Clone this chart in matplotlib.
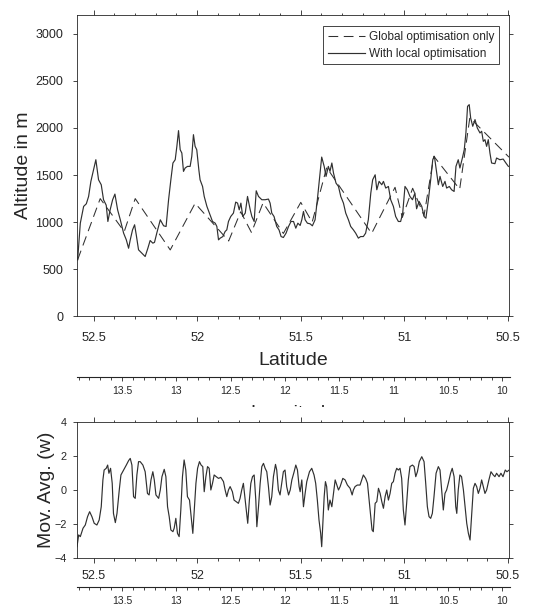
import matplotlib
matplotlib.use("Agg")
import matplotlib.pyplot as plt
from matplotlib.ticker import FixedLocator, MultipleLocator, FormatStrFormatter
from matplotlib.patches import Rectangle

plt.rcParams["font.family"] = ["Liberation Sans", "DejaVu Sans"]
plt.rcParams["lines.scale_dashes"] = False

# ---- altitude profile, with local optimisation (latitude in deg, altitude in m)
lat_local = [52.577, 52.564, 52.548, 52.535, 52.524, 52.513, 52.500, 52.489, 52.476, 52.463,
             52.452, 52.439, 52.431, 52.420, 52.408, 52.397, 52.384, 52.371, 52.355, 52.342,
             52.331, 52.323, 52.312, 52.302, 52.294, 52.283, 52.267, 52.251, 52.238, 52.227,
             52.214, 52.206, 52.195, 52.178, 52.162, 52.150, 52.138, 52.127, 52.117, 52.106,
             52.098, 52.090, 52.082, 52.074, 52.066, 52.058, 52.047, 52.034, 52.026, 52.018,
             52.010, 52.002, 51.992, 51.986, 51.974, 51.966, 51.953, 51.941, 51.926, 51.913,
             51.905, 51.897, 51.889, 51.876, 51.865, 51.857, 51.849, 51.838, 51.825, 51.814,
             51.805, 51.797, 51.789, 51.780, 51.768, 51.757, 51.744, 51.736, 51.725, 51.715,
             51.704, 51.688, 51.672, 51.656, 51.648, 51.640, 51.629, 51.616, 51.605, 51.595,
             51.584, 51.571, 51.559, 51.547, 51.535, 51.524, 51.514, 51.503, 51.495, 51.487,
             51.479, 51.468, 51.455, 51.444, 51.431, 51.420, 51.410, 51.399, 51.387, 51.378,
             51.367, 51.359, 51.350, 51.342, 51.330, 51.318, 51.307, 51.294, 51.283, 51.270,
             51.259, 51.246, 51.235, 51.222, 51.211, 51.198, 51.187, 51.174, 51.162, 51.153,
             51.141, 51.133, 51.122, 51.109, 51.101, 51.090, 51.077, 51.066, 51.053, 51.042,
             51.029, 51.018, 51.008, 50.997, 50.986, 50.973, 50.961, 50.949, 50.941, 50.929,
             50.916, 50.905, 50.896, 50.884, 50.873, 50.863, 50.855, 50.844, 50.836, 50.828,
             50.815, 50.804, 50.796, 50.783, 50.772, 50.760, 50.751, 50.740, 50.732, 50.720,
             50.711, 50.703, 50.695, 50.687, 50.680, 50.670, 50.659, 50.648, 50.635, 50.627,
             50.619, 50.611, 50.603, 50.595, 50.587, 50.579, 50.563, 50.555, 50.539, 50.523,
             50.510, 50.498]
alt_local = [599, 989, 1167, 1195, 1273, 1433, 1557, 1663, 1450, 1397,
             1238, 1180, 1007, 1131, 1238, 1298, 1131, 1025, 883, 812,
             723, 812, 918, 972, 865, 706, 670, 635, 723, 805,
             777, 785, 883, 1025, 961, 954, 1238, 1450, 1628, 1663,
             1805, 1972, 1769, 1734, 1539, 1575, 1592, 1592, 1699, 1929,
             1805, 1769, 1557, 1450, 1379, 1273, 1167, 1096, 1007, 989,
             954, 812, 830, 847, 901, 918, 1007, 1060, 1096, 1213,
             1202, 1131, 1202, 1060, 1096, 1273, 1131, 1060, 1007, 1333,
             1273, 1238, 1238, 1245, 1202, 1096, 1060, 954, 918, 847,
             837, 883, 954, 1007, 1007, 936, 989, 965, 1025, 1113,
             1025, 989, 982, 961, 1025, 1238, 1450, 1691, 1592, 1486,
             1592, 1539, 1628, 1521, 1415, 1379, 1273, 1202, 1096, 1025,
             954, 918, 883, 830, 847, 847, 883, 1025, 1309, 1450,
             1503, 1344, 1433, 1397, 1433, 1362, 1379, 1238, 1167, 1060,
             1007, 1007, 1096, 1379, 1344, 1273, 1238, 1309, 1142, 1220,
             1167, 1060, 1042, 1238, 1450, 1663, 1699, 1521, 1397, 1486,
             1379, 1433, 1362, 1379, 1344, 1326, 1592, 1663, 1575, 1681,
             1769, 1947, 2230, 2248, 2106, 2018, 2089, 2000, 1947, 1965,
             1858, 1876, 1805, 1876, 1734, 1628, 1621, 1681, 1663, 1670,
             1628, 1592]

# ---- altitude profile, global optimisation only
lat_global = [52.577, 52.468, 52.352, 52.299, 52.130, 52.010, 51.848, 51.790, 51.738,
              51.682, 51.584, 51.500, 51.445, 51.375, 51.158, 51.045, 51.010, 50.960,
              50.905, 50.858, 50.733, 50.684, 50.495]
alt_global = [600, 1250, 900, 1250, 705, 1200, 800, 1110, 890,
              1205, 880, 1210, 1000, 1580, 880, 1370, 1050, 1360,
              1070, 1700, 1350, 2110, 1690]

# ---- moving average of w along the track
lat_avg = [52.580, 52.572, 52.564, 52.551, 52.540, 52.529, 52.519, 52.508, 52.497, 52.484,
           52.473, 52.463, 52.455, 52.449, 52.439, 52.432, 52.426, 52.418, 52.410, 52.404,
           52.395, 52.387, 52.376, 52.368, 52.355, 52.342, 52.331, 52.323, 52.315, 52.307,
           52.299, 52.291, 52.283, 52.275, 52.262, 52.251, 52.240, 52.232, 52.223, 52.214,
           52.207, 52.199, 52.186, 52.178, 52.170, 52.159, 52.151, 52.143, 52.135, 52.127,
           52.117, 52.111, 52.103, 52.095, 52.087, 52.079, 52.071, 52.063, 52.055, 52.047,
           52.037, 52.029, 52.021, 52.014, 52.006, 51.998, 51.989, 51.981, 51.973, 51.966,
           51.958, 51.950, 51.942, 51.934, 51.926, 51.918, 51.908, 51.897, 51.886, 51.873,
           51.865, 51.857, 51.849, 51.841, 51.830, 51.822, 51.812, 51.801, 51.793, 51.785,
           51.777, 51.768, 51.760, 51.756, 51.748, 51.741, 51.733, 51.725, 51.717, 51.712,
           51.704, 51.696, 51.688, 51.680, 51.672, 51.664, 51.656, 51.648, 51.640, 51.632,
           51.622, 51.616, 51.608, 51.600, 51.592, 51.584, 51.576, 51.568, 51.559, 51.551,
           51.543, 51.532, 51.524, 51.516, 51.508, 51.503, 51.495, 51.487, 51.479, 51.471,
           51.458, 51.447, 51.436, 51.428, 51.420, 51.412, 51.404, 51.399, 51.394, 51.387,
           51.381, 51.375, 51.367, 51.359, 51.350, 51.342, 51.334, 51.326, 51.318, 51.310,
           51.297, 51.286, 51.275, 51.262, 51.252, 51.246, 51.238, 51.227, 51.214, 51.206,
           51.198, 51.187, 51.178, 51.170, 51.162, 51.156, 51.150, 51.141, 51.133, 51.125,
           51.117, 51.109, 51.101, 51.093, 51.085, 51.077, 51.069, 51.061, 51.053, 51.045,
           51.037, 51.029, 51.021, 51.013, 51.005, 50.997, 50.989, 50.981, 50.973, 50.961,
           50.953, 50.945, 50.937, 50.928, 50.916, 50.905, 50.897, 50.889, 50.881, 50.873,
           50.865, 50.857, 50.847, 50.836, 50.828, 50.820, 50.812, 50.804, 50.796, 50.788,
           50.777, 50.769, 50.760, 50.752, 50.747, 50.740, 50.732, 50.724, 50.715, 50.707,
           50.699, 50.691, 50.683, 50.675, 50.667, 50.659, 50.651, 50.643, 50.635, 50.627,
           50.619, 50.611, 50.603, 50.592, 50.582, 50.571, 50.563, 50.555, 50.543, 50.534,
           50.524, 50.513, 50.505, 50.494]
mov_avg = [-3.32, -2.63, -2.73, -2.24, -2.05, -1.56, -1.27, -1.56, -1.95, -2.05,
           -1.76, -0.98, 0.59, 1.17, 1.27, 1.46, 0.98, 1.27, 0.39, -1.37,
           -1.91, -1.37, 0.00, 0.88, 1.17, 1.46, 1.72, 1.85, 1.46, -0.39,
           -0.49, 0.88, 1.66, 1.66, 1.46, 1.07, -0.20, -0.29, 0.59, 1.07,
           0.59, -0.29, -0.49, 0.00, 0.78, 1.21, 0.78, -0.98, -1.56, -2.34,
           -2.44, -2.24, -1.66, -2.54, -2.73, -1.17, 0.78, 1.76, 1.17, -0.39,
           -0.59, -1.56, -2.54, -1.17, 0.39, 1.27, 1.66, 1.46, 1.37, -0.10,
           0.78, 1.37, 1.27, 0.00, 0.39, 0.88, 0.78, 0.68, 0.74, 0.49,
           0.00, -0.39, 0.00, 0.20, -0.10, -0.59, -0.68, -0.78, -0.49, 0.00,
           0.39, -0.59, -1.46, -1.95, -0.59, 0.39, 0.78, 0.88, -0.59, -2.15,
           -0.98, 0.39, 1.37, 1.56, 1.27, 1.07, 0.20, -0.88, -0.39, 0.78,
           1.50, 1.17, 0.00, -0.29, 0.39, 1.07, 1.17, 0.20, -0.29, 0.00,
           0.59, 1.07, 1.46, 1.17, 0.20, -0.10, 0.59, -0.98, -0.20, 0.49,
           1.07, 1.27, 0.88, 0.39, -0.59, -1.76, -2.54, -3.32, -2.15, -0.39,
           0.49, 0.20, -1.17, -0.59, -0.98, -0.20, 0.59, 0.29, 0.00, 0.20,
           0.68, 0.59, 0.29, 0.10, -0.29, 0.00, 0.20, 0.29, 0.29, 0.59,
           0.88, 0.68, 0.39, -0.59, -1.56, -2.34, -2.44, -0.78, -0.68, 0.10,
           -0.20, -0.68, -1.07, -0.39, 0.00, -0.59, -0.20, 0.39, 0.49, 0.98,
           1.27, 1.17, 1.27, 0.68, -1.17, -2.05, -0.78, 0.59, 1.37, 1.46,
           1.37, 0.78, 1.07, 1.66, 1.95, 1.66, 0.39, -0.98, -1.56, -1.66,
           -1.37, -0.39, 0.98, 1.37, 1.17, 0.00, -1.17, -0.20, 0.00, 0.39,
           0.98, 1.27, 0.78, -0.98, -1.37, 0.00, 0.88, 0.78, 0.00, -0.98,
           -1.95, -2.54, -2.93, -1.37, 0.10, 0.39, 0.20, -0.20, 0.10, 0.59,
           0.20, -0.20, 0.00, 0.59, 1.07, 0.88, 0.78, 0.98, 0.78, 0.98,
           0.78, 1.17, 1.07, 1.17]

lat_ticks = [52.5, 52.0, 51.5, 51.0, 50.5]
lon_ticks = [13.5, 13.0, 12.5, 12.0, 11.5, 11.0, 10.5, 10.0]
alt_ticks = [0, 500, 1000, 1500, 2000, 2500, 3000]
avg_ticks = [-4, -2, 0, 2, 4]
lat_range = (52.58, 50.495)
lon_range = (13.914, 9.93)

INK = "#262626"
W, H = 537, 607


def fig_box(left, top, right, bottom):
    """Axes rectangle from pixel edges (origin top-left)."""
    return [left / W, 1 - bottom / H, (right - left) / W, (bottom - top) / H]


def style_frame(ax):
    for s in ax.spines.values():
        s.set_color(INK)
        s.set_linewidth(0.6)


fig = plt.figure(figsize=(W / 100, H / 100), dpi=100)

# ---------------- altitude panel ----------------
ax1 = fig.add_axes(fig_box(77, 15, 509, 316.3), zorder=2)
ax1.plot(lat_global, alt_global, color="#303030", lw=0.75, dashes=(7, 4),
         label="Global optimisation only")
ax1.plot(lat_local, alt_local, color="#303030", lw=0.85, label="With local optimisation")
ax1.set_xlim(*lat_range)
ax1.set_ylim(0, 3200)
ax1.xaxis.set_major_locator(FixedLocator(lat_ticks))
ax1.xaxis.set_minor_locator(MultipleLocator(0.1))
ax1.xaxis.set_major_formatter(FormatStrFormatter("%g"))
ax1.yaxis.set_major_locator(FixedLocator(alt_ticks))
style_frame(ax1)
ax1.tick_params(axis="both", which="both", direction="out", color=INK,
                labelcolor=INK, width=0.6, top=True, right=True)
ax1.tick_params(axis="x", which="major", length=3.6, pad=7.5, labelsize=9.2)
ax1.tick_params(axis="x", which="minor", length=1.8)
ax1.tick_params(axis="y", which="major", length=3.0, pad=7.0, labelsize=9.0)
ax1.set_ylabel("Altitude in m", fontsize=14, color=INK)
ax1.yaxis.set_label_coords(-0.105, 0.5)
ax1.set_xlabel("Latitude", fontsize=14, color=INK)
ax1.xaxis.set_label_coords(0.5, -0.118)
leg = ax1.legend(loc="upper right", bbox_to_anchor=(0.977, 0.9635), borderaxespad=0,
                 fontsize=8.5, frameon=True, fancybox=False, framealpha=1,
                 handlelength=3.2, handletextpad=0.3, labelspacing=0.42,
                 borderpad=0.4)
leg.get_frame().set_edgecolor(INK)
leg.get_frame().set_linewidth(0.6)
for t in leg.get_texts():
    t.set_color(INK)

# ---------------- longitude scales ----------------
def lon_scale(top_px):
    ax = fig.add_axes(fig_box(77, top_px - 0.1, 510, top_px), zorder=2)
    ax.set_facecolor("none")
    ax.set_xlim(*lon_range)
    ax.set_yticks([])
    for name in ("top", "left", "right"):
        ax.spines[name].set_visible(False)
    ax.spines["bottom"].set_color(INK)
    ax.spines["bottom"].set_linewidth(0.8)
    ax.xaxis.set_major_locator(FixedLocator(lon_ticks))
    ax.xaxis.set_minor_locator(MultipleLocator(0.1))
    ax.xaxis.set_major_formatter(FormatStrFormatter("%g"))
    ax.tick_params(axis="x", which="both", direction="out", color=INK,
                   labelcolor=INK, width=0.6)
    ax.tick_params(axis="x", which="major", length=2.6, pad=3.5, labelsize=7.5)
    ax.tick_params(axis="x", which="minor", length=1.8)
    return ax


lon_scale(377.3)
lon_scale(587.3)

# longitude axis title, tucked underneath the lower panel
fig.text(293 / W, 1 - 405 / H, "Longitude", fontsize=14, color=INK,
         ha="center", va="top", zorder=0.1)
fig.add_artist(Rectangle((0, 1 - 425 / H), 1, (425 - 406.6) / H,
                         transform=fig.transFigure, facecolor="white",
                         edgecolor="none", zorder=0.2))

# ---------------- moving-average panel ----------------
ax2 = fig.add_axes(fig_box(77, 421.7, 509, 558.3), zorder=2)
ax2.plot(lat_avg, mov_avg, color="#303030", lw=0.85)
ax2.set_xlim(*lat_range)
ax2.set_ylim(-4, 4)
ax2.xaxis.set_major_locator(FixedLocator(lat_ticks))
ax2.xaxis.set_minor_locator(MultipleLocator(0.1))
ax2.xaxis.set_major_formatter(FormatStrFormatter("%g"))
ax2.yaxis.set_major_locator(FixedLocator(avg_ticks))
style_frame(ax2)
ax2.tick_params(axis="both", which="both", direction="out", color=INK,
                labelcolor=INK, width=0.6, top=True, right=True)
ax2.tick_params(axis="x", which="major", length=3.6, pad=5.0, labelsize=9.0)
ax2.tick_params(axis="x", which="minor", length=1.8)
ax2.tick_params(axis="y", which="major", length=3.0, pad=4.5, labelsize=7.8)
ax2.set_ylabel("Mov. Avg. (w)", fontsize=14, color=INK)
ax2.yaxis.set_label_coords(-0.05, 0.5)

fig.savefig("out.png", dpi=100, facecolor="white")
